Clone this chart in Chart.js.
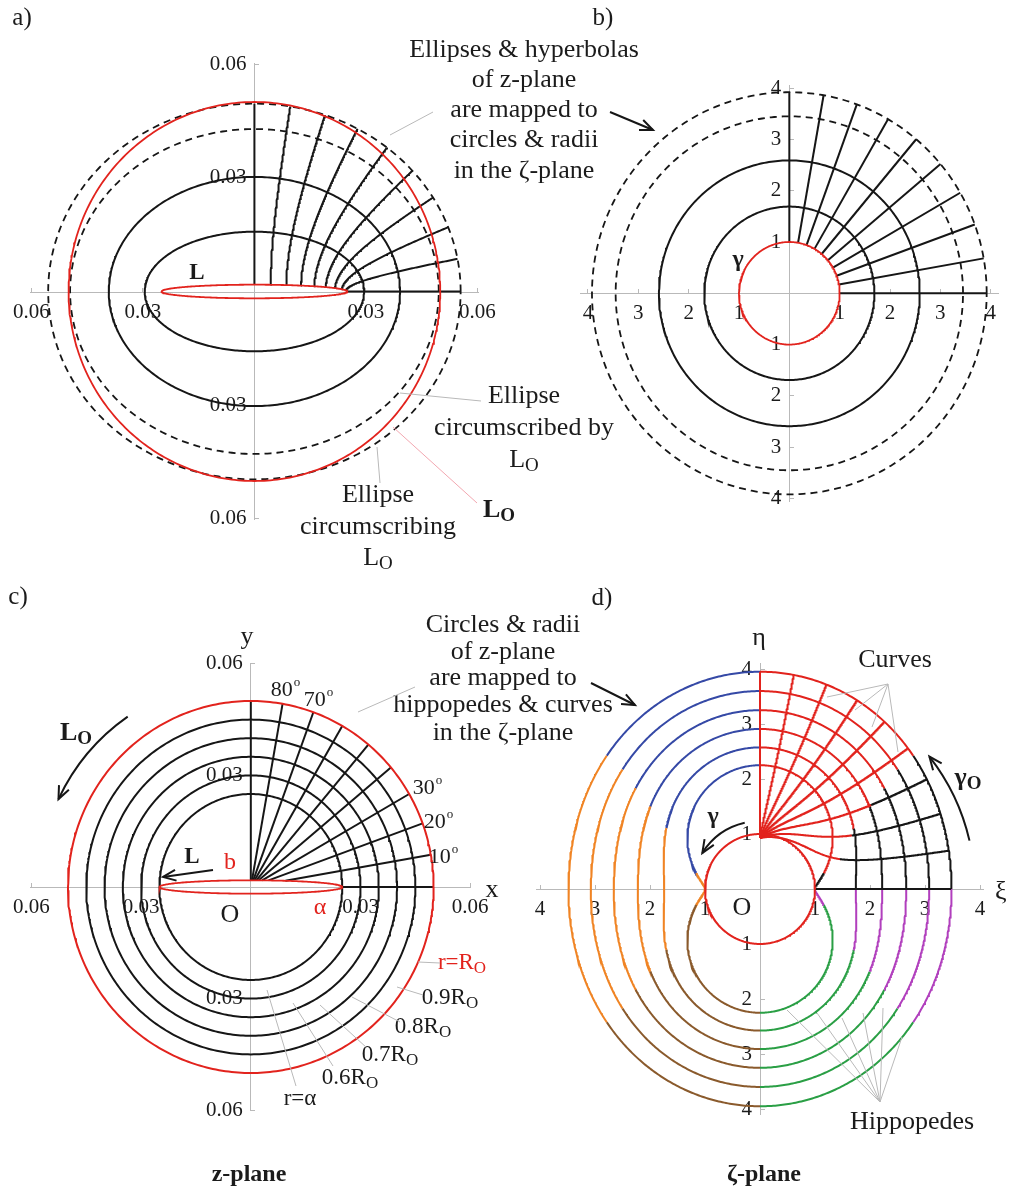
<!DOCTYPE html>
<html>
<head>
<meta charset="utf-8">
<title>Conformal mapping: z-plane and zeta-plane</title>
<script src="https://cdn.jsdelivr.net/npm/chart.js@4.4.1/dist/chart.umd.min.js"></script>
<style>
  html, body { margin: 0; padding: 0; background: #fff; }
  #page { position: relative; width: 1009px; height: 1189px; overflow: hidden; background: #fff; }
  #page canvas { position: absolute; left: 0; top: 0; }
</style>
</head>
<body>
<div id="page">
  <canvas id="chartA" width="1009" height="1189"></canvas>
  <canvas id="chartB" width="1009" height="1189"></canvas>
  <canvas id="chartC" width="1009" height="1189"></canvas>
  <canvas id="chartD" width="1009" height="1189"></canvas>
</div>
<script>
// ---- values ----
const alpha = 0.025;          // half length of the thin ellipse L
const bMinor = 0.0018;        // half thickness of L
const R_O = 0.05;             // radius of L_O
const rhoSolid = [1.69, 2.59];        // zeta circles drawn solid (panel b)
const rhoDashed = [3.45, 3.92];       // zeta circles drawn dashed (panel b)
const rayDeg = [0, 10, 20, 30, 40, 50, 60, 70, 80, 90];
const circleFrac = [0.6, 0.7, 0.8, 0.9];          // z circles, in R_O
const hippoSplit = [14, 33, 37, 39, 41, 41];      // colour change angle (deg) for r = alpha, 0.6 .. 1.0 R_O
const ticksZ = [-0.06, -0.03, 0.03, 0.06];
const ticksZeta = [-4, -3, -2, -1, 1, 2, 3, 4];

// z = A*zeta + B/zeta maps the unit circle onto L
const A = (alpha + bMinor) / 2;
const B = (alpha - bMinor) / 2;

const W = 1009, H = 1189;
const serif = "'Liberation Serif', 'Times New Roman', serif";
const BLACK = '#161616', RED = '#e2231d', GRAY = '#b9b9b9';
const HUE = { black: BLACK, red: RED, blue: '#3549a6', orange: '#f08424', brown: '#8a5a2c', green: '#2a9f45', purple: '#b13fbd' };
const TAU = 2 * Math.PI;
const rad = d => d * Math.PI / 180;

function toZ(re, im) {
  const d = re * re + im * im;
  return [A * re + B * re / d, A * im - B * im / d];
}

function toZeta(x, y) {
  // roots of A*zeta^2 - z*zeta + B = 0, keep the outer one
  const wr = x * x - y * y - 4 * A * B, wi = 2 * x * y;
  const m = Math.sqrt(Math.hypot(wr, wi));
  const h = Math.atan2(wi, wr) / 2;
  const sr = m * Math.cos(h), si = m * Math.sin(h);
  const p = [(x + sr) / (2 * A), (y + si) / (2 * A)];
  const q = [(x - sr) / (2 * A), (y - si) / (2 * A)];
  return Math.hypot(p[0], p[1]) >= Math.hypot(q[0], q[1]) ? p : q;
}

function hippoRho(r, th) {
  const p = r * r - 2 * A * B * Math.cos(2 * th);
  const disc = Math.max(p * p - 4 * A * A * B * B, 0);
  return Math.sqrt((p + Math.sqrt(disc)) / (2 * A * A));
}

function sample(n, t0, t1, f) {
  const pts = [];
  for (let i = 0; i <= n; i++) {
    const p = f(t0 + (t1 - t0) * i / n);
    pts.push({ x: p[0], y: p[1] });
  }
  return pts;
}

function line(pts, color, width, dash) {
  return {
    data: pts, showLine: true, borderColor: color, borderWidth: width,
    borderDash: dash || [], pointRadius: 0, pointHoverRadius: 0,
    fill: false, tension: 0, clip: false
  };
}

const circle = (r, color, w, dash) => line(sample(360, 0, TAU, t => [r * Math.cos(t), r * Math.sin(t)]), color, w, dash);
const zEllipse = (rho, color, w, dash) => line(sample(360, 0, TAU, t => toZ(rho * Math.cos(t), rho * Math.sin(t))), color, w, dash);

// ---- annotation helpers (text, leaders, arrows) ----
function T(x, y, s, o = {}) {
  return ctx => {
    const size = o.size || 26;
    const f = (o.bold ? 'bold ' : '') + size + 'px ' + serif;
    ctx.font = f;
    ctx.fillStyle = o.color || '#1b1b1b';
    ctx.textBaseline = 'middle';
    const extra = o.sub || o.sup;
    if (!extra) {
      ctx.textAlign = o.align || 'center';
      ctx.fillText(s, x, y);
      return;
    }
    const small = (o.bold ? 'bold ' : '') + Math.round(size * (o.sup ? 0.6 : 0.72)) + 'px ' + serif;
    const w1 = ctx.measureText(s).width;
    ctx.font = small;
    const w2 = ctx.measureText(extra).width;
    const x0 = o.align === 'left' ? x : x - (w1 + w2) / 2;
    ctx.textAlign = 'left';
    ctx.font = f;
    ctx.fillText(s, x0, y);
    ctx.font = small;
    ctx.fillText(extra, x0 + w1 + (o.sup ? 1 : 0), y + size * (o.sup ? -0.32 : 0.24));
  };
}

function Ln(pts, color = GRAY, w = 1) {
  return ctx => {
    ctx.strokeStyle = color; ctx.lineWidth = w; ctx.setLineDash([]);
    ctx.beginPath();
    pts.forEach((p, i) => i ? ctx.lineTo(p[0], p[1]) : ctx.moveTo(p[0], p[1]));
    ctx.stroke();
  };
}

function head(ctx, x, y, dx, dy, len = 14) {
  const a = Math.atan2(dy, dx);
  ctx.beginPath();
  ctx.moveTo(x - len * Math.cos(a - 0.4), y - len * Math.sin(a - 0.4));
  ctx.lineTo(x, y);
  ctx.lineTo(x - len * Math.cos(a + 0.4), y - len * Math.sin(a + 0.4));
  ctx.stroke();
}

function Arrow(x1, y1, x2, y2) {
  return ctx => {
    ctx.strokeStyle = BLACK; ctx.lineWidth = 2; ctx.setLineDash([]);
    ctx.beginPath(); ctx.moveTo(x1, y1); ctx.lineTo(x2, y2); ctx.stroke();
    head(ctx, x2, y2, x2 - x1, y2 - y1);
  };
}

function ArcArrow(cx, cy, r, a0, a1) {
  return ctx => {
    ctx.strokeStyle = BLACK; ctx.lineWidth = 2; ctx.setLineDash([]);
    ctx.beginPath(); ctx.arc(cx, cy, r, -rad(a0), -rad(a1), a1 > a0); ctx.stroke();
    const e = rad(a1), s = a1 > a0 ? 1 : -1;
    head(ctx, cx + r * Math.cos(e), cy - r * Math.sin(e), -s * Math.sin(e), -s * Math.cos(e));
  };
}

// ---- chart factory: one transparent full page canvas per panel ----
function makeChart(id, frame, datasets, tickVals, fmt, notes) {
  const { cx, cy, k, hx, hy } = frame;
  const axis = horizontal => ({
    type: 'linear',
    position: 'center',
    min: horizontal ? -hx : -hy,
    max: horizontal ? hx : hy,
    afterBuildTicks: s => { s.ticks = tickVals.map(v => ({ value: v })); },
    afterFit: s => { if (horizontal) s.height = 0; else s.width = 0; },
    border: { display: true, color: GRAY, width: 1 },
    grid: { drawOnChartArea: false, drawTicks: true, tickLength: -5, color: GRAY },
    ticks: {
      autoSkip: false, maxRotation: 0, padding: 13, color: '#1b1b1b',
      font: { family: serif, size: 21 },
      callback: v => fmt(v)
    }
  });
  return new Chart(document.getElementById(id), {
    type: 'scatter',
    data: { datasets: datasets.slice().reverse() },
    options: {
      responsive: false, animation: false, events: [],
      layout: { padding: { left: cx - hx * k, right: W - cx - hx * k, top: cy - hy * k, bottom: H - cy - hy * k } },
      plugins: { legend: { display: false }, tooltip: { enabled: false } },
      scales: { x: axis(true), y: axis(false) }
    },
    plugins: [{ id: 'notes', afterDraw: c => { c.ctx.save(); notes.forEach(n => n(c.ctx)); c.ctx.restore(); } }]
  });
}

const fmtZ = v => Math.abs(v).toFixed(2);
const fmtZeta = v => String(Math.abs(v));

// ---- panel a: ellipses and hyperbolas in the z-plane ----
const dsA = [];
rhoDashed.forEach(r => dsA.push(zEllipse(r, BLACK, 1.8, [7, 5])));
rhoSolid.forEach(r => dsA.push(zEllipse(r, BLACK, 2)));
rayDeg.forEach(d => dsA.push(line(sample(120, 1, rhoDashed[1], r => toZ(r * Math.cos(rad(d)), r * Math.sin(rad(d)))), BLACK, 2)));
dsA.push(circle(R_O, RED, 1.8));
dsA.push(zEllipse(1, RED, 1.8));

makeChart('chartA', { cx: 250, cy: 291.5, k: 3790, hx: 0.0602, hy: 0.0601 }, dsA, ticksZ, fmtZ, [
  T(22, 18, 'a)', { size: 25 }),
  T(197, 273, 'L', { bold: true, size: 23 }),
  T(524, 50, 'Ellipses & hyperbolas'),
  T(524, 80, 'of z-plane'),
  T(524, 110, 'are mapped to'),
  T(524, 140, 'circles & radii'),
  T(524, 171, 'in the \u03b6-plane'),
  Ln([[390, 135], [433, 112]]),
  Arrow(610, 112, 653, 130),
  T(524, 396, 'Ellipse'),
  T(524, 428, 'circumscribed by'),
  T(524, 460, 'L', { sub: 'O' }),
  Ln([[400, 393], [481, 401]]),
  T(378, 495, 'Ellipse'),
  T(378, 527, 'circumscribing'),
  T(378, 558, 'L', { sub: 'O' }),
  Ln([[377, 447], [380, 483]]),
  Ln([[393, 427], [477, 503]], '#f2a7b0'),
  T(483, 510, 'L', { sub: 'O', bold: true, align: 'left' })
]);

// ---- panel b: circles and radii in the zeta-plane ----
const dsB = [];
rhoDashed.forEach(r => dsB.push(circle(r, BLACK, 1.8, [7, 5])));
rhoSolid.forEach(r => dsB.push(circle(r, BLACK, 2)));
rayDeg.forEach(d => dsB.push(line([1, rhoDashed[1]].map(r => ({ x: r * Math.cos(rad(d)), y: r * Math.sin(rad(d)) })), BLACK, 2)));
dsB.push(circle(1, RED, 1.8));

makeChart('chartB', { cx: 793.3, cy: 293.3, k: 51.3, hx: 4.15, hy: 4.05 }, dsB, ticksZeta, fmtZeta, [
  T(603, 18, 'b)', { size: 25 }),
  T(738, 260, '\u03b3', { bold: true, size: 24 })
]);

// ---- panel c: circles and radii in the z-plane ----
const dsC = [];
const zRadii = [alpha, ...circleFrac.map(f => f * R_O)];
zRadii.forEach(r => dsC.push(circle(r, BLACK, 2)));
rayDeg.forEach(d => {
  const f = rad(d);
  const t = Math.atan2(alpha * Math.sin(f), bMinor * Math.cos(f));
  dsC.push(line([{ x: alpha * Math.cos(t), y: bMinor * Math.sin(t) }, { x: R_O * Math.cos(f), y: R_O * Math.sin(f) }], BLACK, 2));
});
dsC.push(circle(R_O, RED, 2));
dsC.push(line(sample(240, 0, TAU, t => [alpha * Math.cos(t), bMinor * Math.sin(t)]), RED, 1.8));

makeChart('chartC', { cx: 247, cy: 887, k: 3720, hx: 0.0602, hy: 0.0601 }, dsC, ticksZ, fmtZ, [
  T(18, 597, 'c)', { size: 25 }),
  T(247, 637, 'y'),
  T(285, 690, '80', { size: 22, sup: 'o' }),
  T(318, 700, '70', { size: 22, sup: 'o' }),
  T(427, 788, '30', { size: 22, sup: 'o' }),
  T(438, 822, '20', { size: 22, sup: 'o' }),
  T(443, 857, '10', { size: 22, sup: 'o' }),
  T(60, 733, 'L', { sub: 'O', bold: true, align: 'left' }),
  ArcArrow(247, 887, 208, 125, 155),
  T(192, 857, 'L', { bold: true, size: 23 }),
  Arrow(213, 870, 163, 877),
  T(230, 863, 'b', { color: RED, size: 24 }),
  T(230, 915, 'O'),
  T(320, 908, '\u03b1', { color: RED, size: 24 }),
  T(492, 890, 'x'),
  T(462, 963, 'r=R', { sub: 'O', color: RED, size: 23 }),
  T(450, 998, '0.9R', { sub: 'O', size: 23 }),
  T(423, 1027, '0.8R', { sub: 'O', size: 23 }),
  T(390, 1055, '0.7R', { sub: 'O', size: 23 }),
  T(350, 1078, '0.6R', { sub: 'O', size: 23 }),
  T(300, 1099, 'r=\u03b1', { size: 23 }),
  Ln([[418, 962], [440, 963]]),
  Ln([[397, 987], [423, 995]]),
  Ln([[352, 997], [400, 1022]]),
  Ln([[320, 1005], [367, 1048]]),
  Ln([[293, 1003], [333, 1066]]),
  Ln([[267, 990], [296, 1086]]),
  T(503, 625, 'Circles & radii'),
  T(503, 652, 'of z-plane'),
  T(503, 678, 'are mapped to'),
  T(503, 705, 'hippopedes & curves'),
  T(503, 733, 'in the \u03b6-plane'),
  Ln([[358, 712], [415, 687]]),
  Arrow(591, 683, 635, 705),
  T(249, 1175, 'z-plane', { bold: true, size: 24 })
]);

// ---- panel d: hippopedes and curves in the zeta-plane ----
const dsD = [];
const hippoR = [alpha, ...circleFrac.map(f => f * R_O), R_O];

function splitAt(r) {
  if (r <= hippoR[0]) return hippoSplit[0];
  for (let i = 1; i < hippoR.length; i++) {
    if (r <= hippoR[i]) {
      const f = (r - hippoR[i - 1]) / (hippoR[i] - hippoR[i - 1]);
      return hippoSplit[i - 1] + f * (hippoSplit[i] - hippoSplit[i - 1]);
    }
  }
  return hippoSplit[hippoSplit.length - 1];
}

hippoR.forEach((r, i) => {
  const s = hippoSplit[i];
  const pieces = [[0, s, 'black'], [s, 90, 'red'], [90, 180 - s, 'blue'], [180 - s, 180 + s, 'orange'],
                  [180 + s, 270, 'brown'], [270, 360 - s, 'green'], [360 - s, 360, 'purple']];
  pieces.forEach(([a0, a1, c]) => {
    const n = Math.max(10, Math.round((a1 - a0) * 2));
    dsD.push(line(sample(n, rad(a0), rad(a1), t => { const p = hippoRho(r, t); return [p * Math.cos(t), p * Math.sin(t)]; }), HUE[c], 2));
  });
});

rayDeg.forEach(d => {
  const f = rad(d), r0 = d === 0 ? alpha : 1e-7;
  let run = [], blackRun = null;
  for (let i = 0; i <= 400; i++) {
    const r = r0 + (R_O - r0) * i / 400;
    const [u, v] = toZeta(r * Math.cos(f), r * Math.sin(f));
    const blk = Math.atan2(v, u) * 180 / Math.PI < splitAt(r);
    const p = { x: u, y: v };
    if (blackRun !== null && blk !== blackRun) {
      run.push(p);
      dsD.push(line(run, blackRun ? BLACK : RED, 2));
      run = [p];
    } else run.push(p);
    blackRun = blk;
  }
  dsD.push(line(run, blackRun ? BLACK : RED, 2));
});
dsD.push(circle(1, RED, 2));

makeChart('chartD', { cx: 760, cy: 889, k: 55, hx: 4.07, hy: 4.1 }, dsD, ticksZeta, fmtZeta, [
  T(602, 598, 'd)', { size: 25 }),
  T(759, 638, '\u03b7'),
  T(995, 892, '\u03be', { align: 'left' }),
  T(742, 908, 'O'),
  T(713, 817, '\u03b3', { bold: true, size: 24 }),
  ArcArrow(760, 889, 68, 103, 148),
  T(968, 778, '\u03b3', { sub: 'O', bold: true, size: 26 }),
  ArcArrow(760, 889, 215, 13, 38),
  T(895, 660, 'Curves'),
  Ln([[888, 684], [827, 697]]),
  Ln([[888, 684], [855, 710]]),
  Ln([[888, 684], [872, 727]]),
  Ln([[888, 684], [898, 752]]),
  T(912, 1122, 'Hippopedes'),
  Ln([[880, 1102], [787, 1010]]),
  Ln([[880, 1102], [817, 1013]]),
  Ln([[880, 1102], [842, 1018]]),
  Ln([[880, 1102], [863, 1013]]),
  Ln([[880, 1102], [883, 1008]]),
  Ln([[880, 1102], [902, 1037]]),
  T(764, 1175, '\u03b6-plane', { bold: true, size: 24 })
]);
</script>
</body>
</html>
